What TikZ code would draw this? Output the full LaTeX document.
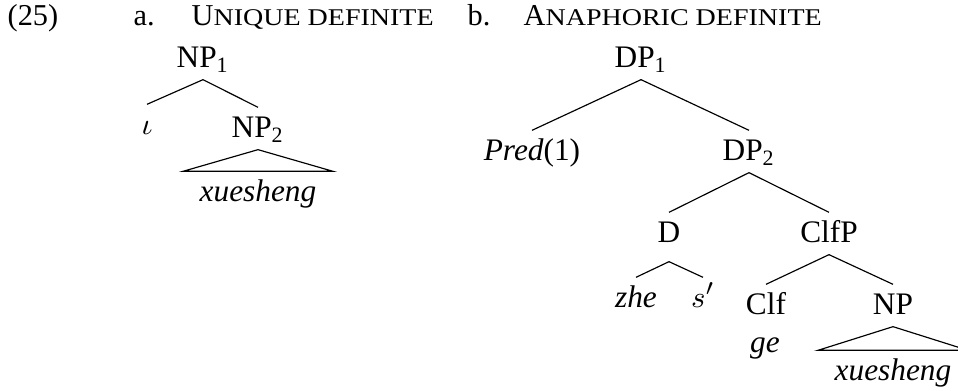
\documentclass[tikz,border=0pt]{standalone}
\usepackage{fontspec}
\usepackage{graphicx}
\setmainfont{Liberation Serif}
\newcommand\fakesc[1]{\scalebox{1.167}[1]{\fontsize{7.2}{9}\selectfont #1}}
\begin{document}
\begin{tikzpicture}[x=0.3pt,y=-0.3pt,
  every node/.style={font=\fontsize{9.4}{11}\selectfont, inner sep=0pt},
  lab/.style={anchor=base, inner xsep=1pt, inner ysep=2.8pt, text height=6.2pt, text depth=0.5pt},
  hdr/.style={anchor=base west, font=\fontsize{9.1}{11}\selectfont},
  branch/.style={line width=0.35pt}]
\useasboundingbox (0,0) rectangle (958,391);
% headers
\node[hdr] (ex) at (7,26) {(25)};
\node[hdr] (amark) at (133,26) {a.};
\node[hdr] (atitle) at (191,26) {U\fakesc{NIQUE DEFINITE}};
\node[hdr] (bmark) at (467,26) {b.};
\node[hdr] (btitle) at (523,26) {A\fakesc{NAPHORIC DEFINITE}};
% tree a
\node[lab] (np1) at (203,68) {NP\textsubscript{1}};
\node[lab] (iota) at (147,135) {$\iota$};
\node[lab] (np2) at (258,138) {NP\textsubscript{2}};
\node[lab] (xsa) at (258,202) {\itshape xuesheng};
\draw[branch] (np1.south) -- (iota.north);
\draw[branch] (np1.south) -- (np2.north);
\draw[branch] (np2.south) -- ([xshift=-75*0.3pt]xsa.north) -- ([xshift=75*0.3pt]xsa.north) -- cycle;
% tree b
\node[lab] (dp1) at (641,68) {DP\textsubscript{1}};
\node[lab] (pred) at (532,161) {\textit{Pred}(1)};
\node[lab] (dp2) at (749,161) {DP\textsubscript{2}};
\node[lab] (d) at (669,243) {D};
\node[lab] (clfp) at (829,243) {ClfP};
\node[lab] (zhe) at (636,308) {\itshape zhe};
\node[lab] (s) at (703,308) {$s'$};
\node[lab] (clf) at (766,315) {Clf};
\node[lab] (np) at (893,315) {NP};
\node[lab] (ge) at (765,353) {\itshape ge};
\node[lab] (xsb) at (893,381) {\itshape xuesheng};
\draw[branch] (dp1.south) -- (pred.north);
\draw[branch] (dp1.south) -- (dp2.north);
\draw[branch] (dp2.south) -- (d.north);
\draw[branch] (dp2.south) -- (clfp.north);
\draw[branch] ([yshift=-7*0.3pt]d.south) -- (zhe.north);
\draw[branch] ([yshift=-7*0.3pt]d.south) -- (s.north);
\draw[branch] (clfp.south) -- (clf.north);
\draw[branch] (clfp.south) -- (np.north);
\draw[branch] (np.south) -- ([xshift=-75*0.3pt]xsb.north) -- ([xshift=75*0.3pt]xsb.north) -- cycle;
\end{tikzpicture}
\end{document}
